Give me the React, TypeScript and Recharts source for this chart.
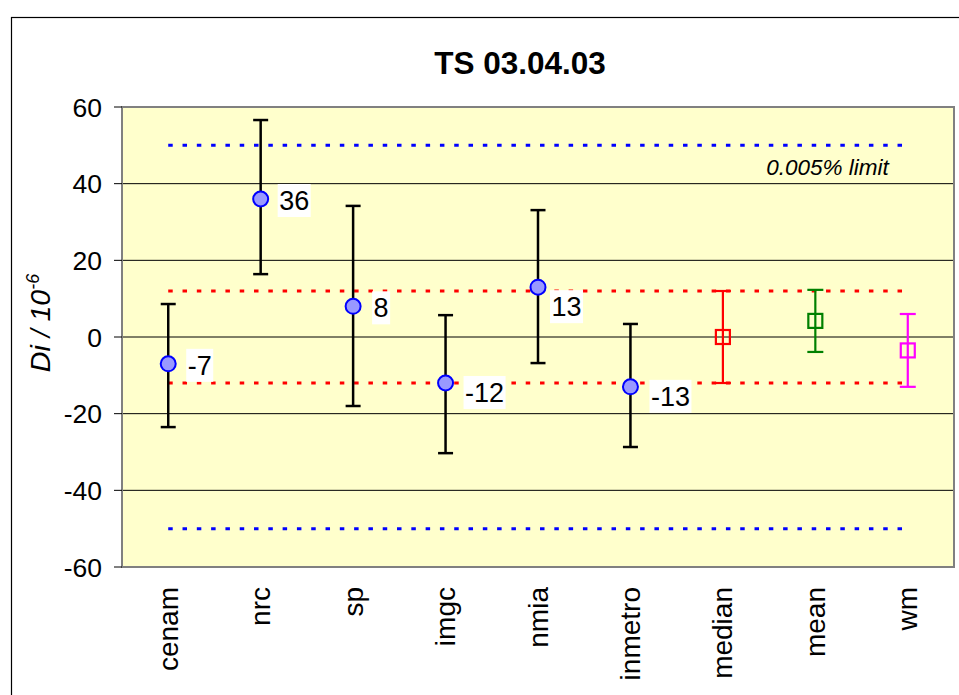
import {
  ComposedChart,
  Scatter,
  XAxis,
  YAxis,
  CartesianGrid,
  ErrorBar,
  ReferenceLine,
  ReferenceArea,
} from "recharts";

// categories along the x axis, in order
const categories = ["cenam", "nrc", "sp", "imgc", "nmia", "inmetro", "median", "mean", "wm"];

// participating labs: Di values and [lower, upper] uncertainty
const labNames = ["cenam", "nrc", "sp", "imgc", "nmia", "inmetro"];
const labValues = [-7, 36, 8, -12, 13, -13];
const labUncertainty: [number, number][] = [
  [16.5, 15.6],
  [19.6, 20.6],
  [26, 26.2],
  [18.3, 17.7],
  [19.8, 20.1],
  [15.7, 16.4],
];

// reference values
const summaryNames = ["median", "mean", "wm"];
const summaryValues = [0, 4.2, -3.5];
const summaryUncertainty = [12, 8.1, 9.5];

const yTicks = [-60, -40, -20, 0, 20, 40, 60];
const limitBand = 50; // 0.005% limit
const medianBand = 12;

const FONT = "'Liberation Sans', Arial, sans-serif";
const W = 959;
const H = 695;

const summaryColors = ["#FF0000", "#008000", "#FF00FF"];
// label placement next to each lab point (dx, dy from the marker centre)
const labelShift = [
  [18, 1],
  [17, 1],
  [19, 1],
  [18, 9],
  [12, 19],
  [19, 9],
];

const labData = labNames.map((name, i) => ({
  x: categories.indexOf(name),
  y: labValues[i],
  err: labUncertainty[i],
  label: String(labValues[i]),
  idx: i,
}));

const summaryData = summaryNames.map((name, i) => ({
  x: categories.indexOf(name),
  y: summaryValues[i],
  err: summaryUncertainty[i],
}));

function textWidth(s: string, size: number) {
  let w = 0;
  for (const ch of s) w += ch === "-" ? 0.333 : 0.556;
  return w * size;
}

function LabPoint(props: any) {
  const { cx, cy, payload } = props;
  if (cx == null || cy == null) return null;
  const [dx, dy] = labelShift[payload.idx];
  const fs = 27;
  const tw = textWidth(payload.label, fs);
  const lx = cx + dx;
  const ly = cy + dy;
  return (
    <g>
      <circle cx={cx} cy={cy} r={7.5} fill="#9999FF" stroke="#0000FF" strokeWidth={2} />
      <rect x={lx} y={ly - 16} width={tw + 3} height={33} fill="#FFFFFF" />
      <text x={lx + 1.5} y={ly + 9.7} fontSize={fs} fontFamily={FONT} fill="#000">
        {payload.label}
      </text>
    </g>
  );
}

function squareShape(color: string) {
  return (props: any) => {
    const { cx, cy } = props;
    if (cx == null || cy == null) return null;
    return (
      <rect x={cx - 7} y={cy - 7} width={14} height={14} fill="none" stroke={color} strokeWidth={2.2} />
    );
  };
}

function YTick(props: any) {
  const { y, payload } = props;
  return (
    <text x={102} y={y + 9.5} textAnchor="end" fontSize={26.5} fontFamily={FONT} fill="#000">
      {payload.value}
    </text>
  );
}

function XTick(props: any) {
  const { x, payload } = props;
  return (
    <g transform={`translate(${x},587) rotate(-90)`}>
      <text x={0} y={0} dy={9.5} textAnchor="end" fontSize={28} fontFamily={FONT} fill="#000">
        {categories[payload.value]}
      </text>
    </g>
  );
}

function LimitLabel(props: any) {
  const { viewBox } = props;
  if (!viewBox) return null;
  return (
    <text
      x={viewBox.x + viewBox.width - 19}
      y={viewBox.y + 30}
      textAnchor="end"
      fontSize={22.5}
      fontStyle="italic"
      fontFamily={FONT}
      fill="#000"
    >
      0.005% limit
    </text>
  );
}

export default function App() {
  const lastIdx = categories.length - 1;
  return (
    <div
      style={{
        position: "absolute",
        left: 0,
        top: 0,
        width: W,
        height: H,
        overflow: "hidden",
        background: "#FFFFFF",
      }}
    >
      <svg width={W} height={H} style={{ position: "absolute", left: 0, top: 0 }}>
        <rect x={11.5} y={17.5} width={1000} height={1000} fill="none" stroke="#000" strokeWidth={1.2} />
        <text x={520} y={74} textAnchor="middle" fontSize={31.5} fontWeight="bold" fontFamily={FONT} fill="#000">
          TS 03.04.03
        </text>
        <g transform="translate(50,323) rotate(-90)">
          <text x={0} y={0} textAnchor="middle" fontSize={28.5} fontStyle="italic" fontFamily={FONT} fill="#000">
            Di / 10
            <tspan dy={-11} fontSize={18}>
              -6
            </tspan>
          </text>
        </g>
      </svg>
      <div style={{ position: "absolute", left: 0, top: 0 }}>
        <ComposedChart width={W} height={H} margin={{ top: 107, right: 5, bottom: 0, left: 0 }}>
          <CartesianGrid horizontal vertical={false} stroke="#000" strokeWidth={1} fill="#FFFFCC" />
          <XAxis
            type="number"
            dataKey="x"
            domain={[-0.5, lastIdx + 0.5]}
            allowDataOverflow
            ticks={categories.map((_, i) => i)}
            tickLine={false}
            axisLine={false}
            height={128}
            tick={<XTick />}
            interval={0}
          />
          <YAxis
            type="number"
            dataKey="y"
            domain={[-60, 60]}
            allowDataOverflow
            ticks={yTicks}
            width={122}
            tickSize={8}
            tickLine={{ stroke: "#000", strokeWidth: 1 }}
            axisLine={false}
            tick={<YTick />}
            interval={0}
          />
          <ReferenceArea
            x1={-0.5}
            x2={lastIdx + 0.5}
            y1={-60}
            y2={60}
            fill="none"
            fillOpacity={0}
            stroke="#808080"
            strokeWidth={2}
          />
          <ReferenceLine
            segment={[
              { x: 0, y: limitBand },
              { x: lastIdx, y: limitBand },
            ]}
            stroke="#0000FF"
            strokeWidth={3}
            strokeDasharray="4.5 9.8"
            label={<LimitLabel />}
          />
          <ReferenceLine
            segment={[
              { x: 0, y: -limitBand },
              { x: lastIdx, y: -limitBand },
            ]}
            stroke="#0000FF"
            strokeWidth={3}
            strokeDasharray="4.5 9.8"
          />
          <ReferenceLine
            segment={[
              { x: 0, y: medianBand },
              { x: lastIdx, y: medianBand },
            ]}
            stroke="#FF0000"
            strokeWidth={3}
            strokeDasharray="4.5 9.8"
          />
          <ReferenceLine
            segment={[
              { x: 0, y: -medianBand },
              { x: lastIdx, y: -medianBand },
            ]}
            stroke="#FF0000"
            strokeWidth={3}
            strokeDasharray="4.5 9.8"
          />
          {summaryData.map((d, i) => (
            <Scatter
              key={summaryNames[i]}
              data={[d]}
              dataKey="y"
              shape={squareShape(summaryColors[i])}
              isAnimationActive={false}
            >
              <ErrorBar dataKey="err" direction="y" width={8} stroke={summaryColors[i]} strokeWidth={2.2} />
            </Scatter>
          ))}
          <Scatter data={labData} dataKey="y" shape={<LabPoint />} isAnimationActive={false}>
            <ErrorBar dataKey="err" direction="y" width={7.5} stroke="#000" strokeWidth={2.5} />
          </Scatter>
        </ComposedChart>
      </div>
    </div>
  );
}
